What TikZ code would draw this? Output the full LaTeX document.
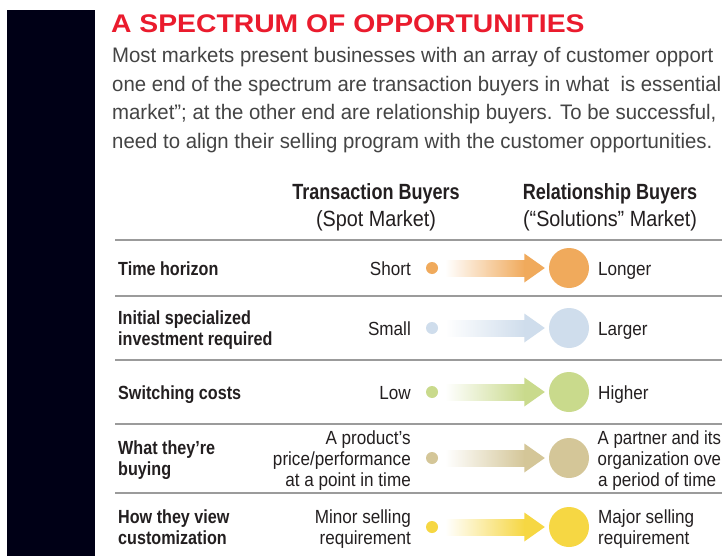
\documentclass[tikz,border=0pt]{standalone}
\usepackage{fontspec}
\usetikzlibrary{calc}
\setmainfont{Liberation Sans}
\newfontfamily\titlefont{Liberation Sans}[FakeStretch=1.11]
\newfontfamily\bodyfont{Liberation Sans}[FakeStretch=0.97]
\newfontfamily\condfont{Liberation Sans}[FakeStretch=0.82]
\newfontfamily\lblfont{Liberation Sans}[FakeStretch=0.85]
\newfontfamily\condreg{Liberation Sans}[FakeStretch=0.90]
\newfontfamily\condnarrow{Liberation Sans}[FakeStretch=0.885]
\definecolor{titlered}{HTML}{EA1B2D}
\definecolor{barblack}{HTML}{000016}
\definecolor{bodygray}{HTML}{444444}
\definecolor{ink}{HTML}{231F20}
\definecolor{sepgray}{HTML}{9B9B9B}
\definecolor{corange}{HTML}{F0AA5C}
\definecolor{cblue}{HTML}{CFDDEC}
\definecolor{cgreen}{HTML}{C9DA8C}
\definecolor{ctan}{HTML}{D4C698}
\definecolor{cyellow}{HTML}{F6D743}
\newcommand\fatarrow[3]{%
  \path ($(#1.east)+(7,0)$) coordinate (#1a) ($(#2.west)+(-4,0)$) coordinate (#1b);
  \shade[left color=white,right color=#3] ($(#1a)+(0,-8)$) rectangle ($(#1b)+(-20,8)$);
  \fill[#3] ($(#1b)+(-20.5,-14.5)$) -- (#1b) -- ($(#1b)+(-20.5,14.5)$) -- cycle;
}
\begin{document}
\begin{tikzpicture}[x=1pt,y=-1pt,
  lbl/.style={font=\lblfont\bfseries\fontsize{19}{21}\selectfont, text=ink, anchor=base west, inner sep=0},
  val/.style={font=\condreg\fontsize{19}{21}\selectfont, text=ink, anchor=base east, inner sep=0},
  rval/.style={val, anchor=base west},
  hdb/.style={font=\condfont\bfseries\fontsize{22}{24}\selectfont, text=ink, anchor=base, inner sep=0},
  hdr/.style={font=\condreg\fontsize{22}{24}\selectfont, text=ink, anchor=base, inner sep=0},
  body/.style={font=\bodyfont\fontsize{21}{25}\selectfont, text=bodygray, anchor=base west, inner sep=0},
  sep/.style={draw=sepgray, line width=1.5pt},
  dotsmall/.style={circle, inner sep=0, minimum size=12pt, fill=#1},
  dotbig/.style={circle, inner sep=0, minimum size=40pt, fill=#1},
]
\useasboundingbox (0,0) rectangle (722,556);
\clip (0,0) rectangle (722,556);
\fill[white] (0,0) rectangle (722,556);
% black bar
\fill[barblack] (7,10) rectangle (95,556);
% title and intro
\node[anchor=base west, inner sep=0, text=titlered, font=\titlefont\bfseries\fontsize{25.5}{27}\selectfont] (title) at (111,33) {A SPECTRUM OF OPPORTUNITIES};
\node[body] (p1) at (112,63) {Most markets present businesses with an array of customer opport};
\node[body] (p2) at (112,91.5) {one end of the spectrum are transaction buyers in what~ is essential};
\node[body] (p3) at (112,120) {market”; at the other end are relationship buyers. To be successful,};
\node[body] (p4) at (112,148.5) {need to align their selling program with the customer opportunities.};
% headers
\node[hdb] (h1) at (376,200) {Transaction Buyers};
\node[hdr] (h1s) at (376,226) {(Spot Market)};
\node[hdb] (h2) at (610,200) {Relationship Buyers};
\node[hdr] (h2s) at (610,226) {(“Solutions” Market)};
% separators
\draw[sep] (115,240) -- (722,240);
\draw[sep] (115,296) -- (722,296);
\draw[sep] (115,360) -- (722,360);
\draw[sep] (115,424) -- (722,424);
\draw[sep] (115,493) -- (722,493);
% row 1
\node[lbl] (l1) at (118,275) {Time horizon};
\node[val] (v1) at (411,275) {Short};
\node[dotsmall=corange] (s1) at (432,268) {};
\node[dotbig=corange] (b1) at (569,268) {};
\fatarrow{s1}{b1}{corange}
\node[rval] (r1) at (598,275) {Longer};
% row 2
\node[lbl] (l2a) at (118,324) {Initial specialized};
\node[lbl] (l2b) at (118,345) {investment required};
\node[val] (v2) at (411,335) {Small};
\node[dotsmall=cblue] (s2) at (432,328) {};
\node[dotbig=cblue] (b2) at (569,328) {};
\fatarrow{s2}{b2}{cblue}
\node[rval] (r2) at (598,335) {Larger};
% row 3
\node[lbl] (l3) at (118,399) {Switching costs};
\node[val] (v3) at (411,399) {Low};
\node[dotsmall=cgreen] (s3) at (432,392) {};
\node[dotbig=cgreen] (b3) at (569,392) {};
\fatarrow{s3}{b3}{cgreen}
\node[rval] (r3) at (598,399) {Higher};
% row 4
\node[lbl] (l4a) at (118,454) {What they’re};
\node[lbl] (l4b) at (118,475) {buying};
\node[val] (v4a) at (411,444) {A product’s};
\node[val] (v4b) at (411,465) {price/performance};
\node[val] (v4c) at (411,486) {at a point in time};
\node[dotsmall=ctan] (s4) at (432,458) {};
\node[dotbig=ctan] (b4) at (569,458) {};
\fatarrow{s4}{b4}{ctan}
\node[rval, font=\condnarrow\fontsize{19}{21}\selectfont] (r4a) at (597.5,444) {A partner and its};
\node[rval, font=\condnarrow\fontsize{19}{21}\selectfont] (r4b) at (597.5,465) {organization ove};
\node[rval] (r4c) at (598,486) {a period of time};
% row 5
\node[lbl] (l5a) at (118,523) {How they view};
\node[lbl] (l5b) at (118,544) {customization};
\node[val] (v5a) at (411,523) {Minor selling};
\node[val] (v5b) at (411,544) {requirement};
\node[dotsmall=cyellow] (s5) at (432,527) {};
\node[dotbig=cyellow] (b5) at (569,527) {};
\fatarrow{s5}{b5}{cyellow}
\node[rval] (r5a) at (598,523) {Major selling};
\node[rval] (r5b) at (598,544) {requirement};
\end{tikzpicture}
\end{document}
